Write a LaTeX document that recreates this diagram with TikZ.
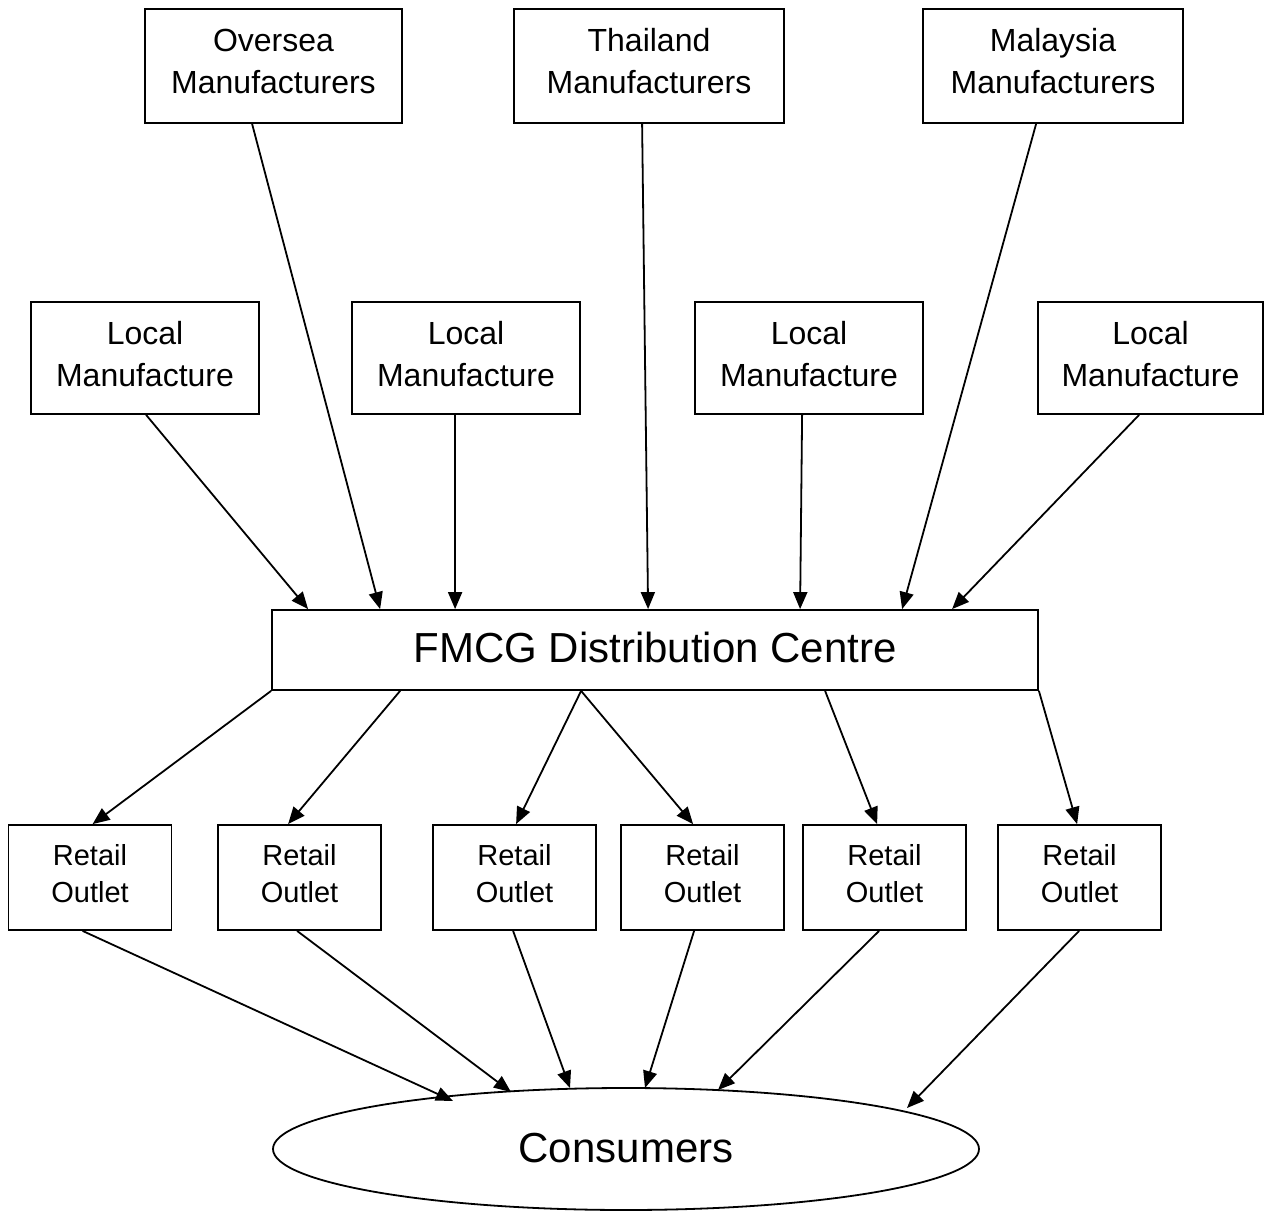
\documentclass[tikz,border=0pt]{standalone}
\usepackage{fontspec}
\setmainfont{Liberation Sans}
\usetikzlibrary{shapes.geometric,arrows.meta,calc}
\begin{document}
\begin{tikzpicture}[x=1pt,y=-1pt,
  box/.style={draw,line width=1.8pt,inner sep=0pt,align=center,font=\fontsize{32}{42}\selectfont},
  tbox/.style={box,minimum height=114pt,text depth=10pt},
  lbox/.style={box,minimum width=228pt,minimum height=112pt,text depth=8pt},
  rbox/.style={box,minimum width=163pt,minimum height=105pt,text depth=8pt,font=\fontsize{29}{37}\selectfont},
  arr/.style={line width=1.8pt,-{Triangle[length=17pt,width=14pt]}}]
\useasboundingbox (0,0) rectangle (1264,1212);
% top row
\node[tbox,minimum width=257pt] (ov) at (273.5,66) {Oversea\\Manufacturers};
\node[tbox,minimum width=270pt] (th) at (649,66) {Thailand\\Manufacturers};
\node[tbox,minimum width=260pt] (my) at (1053,66) {Malaysia\\Manufacturers};
% local row
\node[lbox] (l1) at (145,358) {Local\\Manufacture};
\node[lbox] (l2) at (466,358) {Local\\Manufacture};
\node[lbox] (l3) at (809,358) {Local\\Manufacture};
\node[lbox,minimum width=225pt] (l4) at (1150.5,358) {Local\\Manufacture};
% centre
\node[box,minimum width=766pt,minimum height=80pt,text depth=6pt,font=\fontsize{42}{50}\selectfont] (fm) at (655,650) {FMCG Distribution Centre};
% retail
\node[rbox] (r1) at (90,877.5) {Retail\\Outlet};
\node[rbox] (r2) at (299.5,877.5) {Retail\\Outlet};
\node[rbox] (r3) at (514.5,877.5) {Retail\\Outlet};
\node[rbox] (r4) at (702.5,877.5) {Retail\\Outlet};
\node[rbox] (r5) at (884.5,877.5) {Retail\\Outlet};
\node[rbox] (r6) at (1079.5,877.5) {Retail\\Outlet};
% consumers
\node[draw,ellipse,line width=1.8pt,inner sep=0pt,minimum width=706pt,minimum height=122pt,text depth=2pt,font=\fontsize{42}{50}\selectfont] (cons) at (626,1149) {Consumers};
% arrows into centre
\draw[arr] ($(ov.south west)+(108,0)$) -- ($(fm.north west)+(109,0)$);
\draw[arr] ($(th.south west)+(129,0)$) -- ($(fm.north west)+(377,0)$);
\draw[arr] ($(my.south west)+(114,0)$) -- ($(fm.north west)+(631,0)$);
\draw[arr] ($(l1.south west)+(116,0)$) -- ($(fm.north west)+(37,0)$);
\draw[arr] ($(l2.south west)+(104,0)$) -- ($(fm.north west)+(184,0)$);
\draw[arr] ($(l3.south west)+(108,0)$) -- ($(fm.north west)+(529,0)$);
\draw[arr] ($(l4.south west)+(102,0)$) -- ($(fm.north west)+(681,0)$);
% arrows to retail
\draw[arr] (fm.south west) -- ($(r1.north west)+(85,0)$);
\draw[arr] ($(fm.south west)+(129,0)$) -- ($(r2.north west)+(71,0)$);
\draw[arr] ($(fm.south west)+(310,0)$) -- ($(r3.north west)+(84,0)$);
\draw[arr] ($(fm.south west)+(310,0)$) -- ($(r4.north west)+(73,0)$);
\draw[arr] ($(fm.south west)+(554,0)$) -- ($(r5.north west)+(75,0)$);
\draw[arr] (fm.south east) -- ($(r6.north west)+(80,0)$);
% arrows to consumers
\draw[arr] ($(r1.south west)+(75,0)$) -- ($(cons.center)+(-173,-48)$);
\draw[arr] ($(r2.south west)+(80,0)$) -- ($(cons.center)+(-115,-57)$);
\draw[arr] ($(r3.south west)+(81,0)$) -- ($(cons.center)+(-56,-61)$);
\draw[arr] ($(r4.south west)+(74,0)$) -- ($(cons.center)+(19,-61)$);
\draw[arr] ($(r5.south west)+(77,0)$) -- ($(cons.center)+(92,-59)$);
\draw[arr] ($(r6.south west)+(82,0)$) -- ($(cons.center)+(281,-41)$);
\end{tikzpicture}
\end{document}
